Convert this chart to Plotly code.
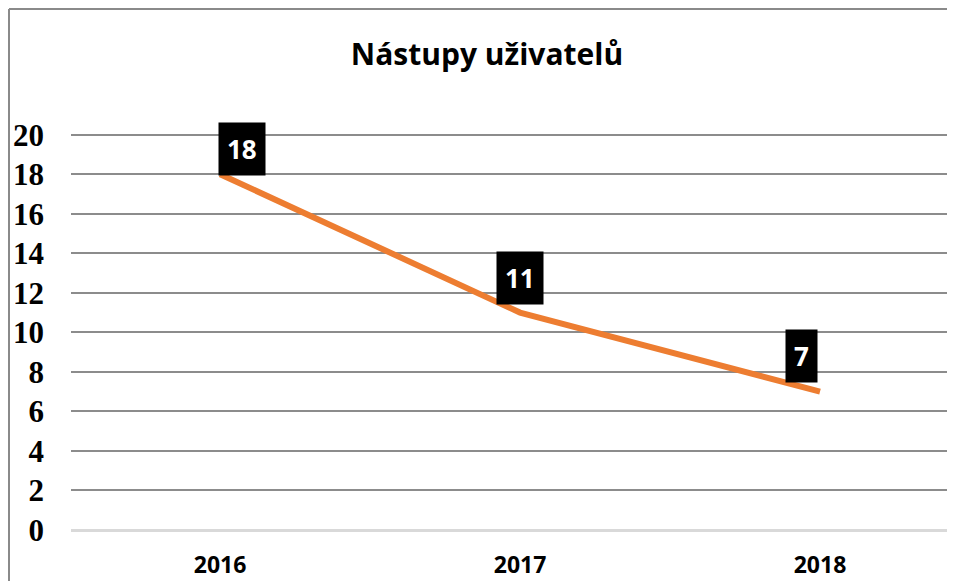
import plotly.graph_objects as go

years = ["2016", "2017", "2018"]
values = [18, 11, 7]
label_shift_x = [22, 0, -19]
label_shift_y = [25, 35, 36]
y_ticks = [0, 2, 4, 6, 8, 10, 12, 14, 16, 18, 20]
title_text = "Nástupy uživatelů"

# page body has an 8px margin, so the figure is sized/positioned to compensate
W, H = 947, 573
L, R, T, B = 63, 0, 121, 51
y_top = (H - B - 126.7) / 19.77 * 1.0  # pixel-based top so that 20 sits at the same spot
y_top = 20 + (126.7 - T) / 19.77

fig = go.Figure()
fig.add_trace(go.Scatter(
    x=years, y=values, mode="lines",
    line=dict(color="#ED7D31", width=6),
    hoverinfo="skip", showlegend=False,
))

for i, (v, dx, dy) in enumerate(zip(values, label_shift_x, label_shift_y)):
    fig.add_annotation(
        x=i, y=v, xref="x", yref="y", text="<b>" + str(v) + "</b>", showarrow=False,
        xshift=dx, yshift=dy,
        bgcolor="#000000", borderpad=8,
        font=dict(family="Open Sans", size=26, color="#ffffff"),
    )

pw = W - L - R
ph = H - T - B
def px(xp):
    return (xp - L) / pw
def py(yp):
    return (H - B - yp) / ph

fig.add_shape(type="line", xref="paper", yref="paper",
              x0=px(1), x1=px(1), y0=py(1), y1=py(H + 5),
              line=dict(color="#8a8a8a", width=2))
fig.add_shape(type="line", xref="paper", yref="paper",
              x0=px(1), x1=px(W + 5), y0=py(1), y1=py(1),
              line=dict(color="#8a8a8a", width=2))

fig.update_layout(
    width=W, height=H,
    margin=dict(l=L, r=R, t=T, b=B),
    paper_bgcolor="#ffffff", plot_bgcolor="#ffffff",
    title=dict(text="<b>" + title_text + "</b>", x=479 / W, xanchor="center",
               y=1 - 46 / H, yanchor="middle",
               font=dict(family="Open Sans", size=30, color="#000000")),
    xaxis=dict(type="category", range=[-0.497, 2.45],
               showgrid=False, zeroline=False, showline=False, ticks="",
               tickfont=dict(family="Open Sans", size=23, color="#000000", weight="bold"),
               ticklabelstandoff=19),
    yaxis=dict(range=[0, y_top], tickvals=y_ticks,
               showgrid=True, gridcolor="#8c8c8c", gridwidth=2,
               zeroline=True, zerolinecolor="#d9d9d9", zerolinewidth=3,
               showline=False, ticks="",
               tickfont=dict(family="Liberation Serif", size=31, color="#000000", weight="bold"),
               ticklabelstandoff=26),
)

fig.write_html("out.html")
